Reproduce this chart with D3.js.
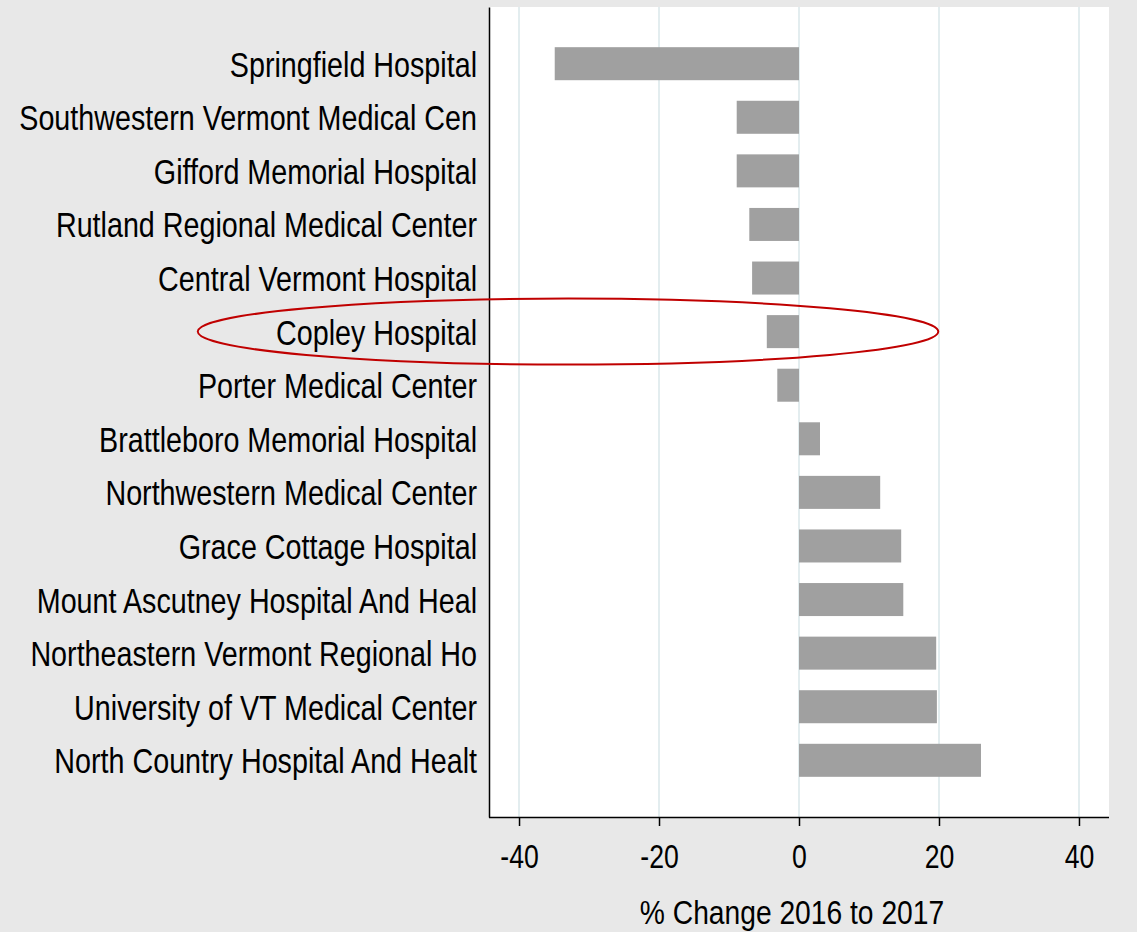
<!DOCTYPE html>
<html>
<head>
<meta charset="utf-8">
<script src="https://cdn.jsdelivr.net/npm/d3@7"></script>
<style>
  body { margin: 0; background: #e8e8e8; }
  text { font-family: "Liberation Sans", Arial, sans-serif; fill: #000; }
</style>
</head>
<body>
<svg id="chart"></svg>
<script>
// data
let hospitals = [
  "Springfield Hospital",
  "Southwestern Vermont Medical Cen",
  "Gifford Memorial Hospital",
  "Rutland Regional Medical Center",
  "Central Vermont Hospital",
  "Copley Hospital",
  "Porter Medical Center",
  "Brattleboro Memorial Hospital",
  "Northwestern Medical Center",
  "Grace Cottage Hospital",
  "Mount Ascutney Hospital And Heal",
  "Northeastern Vermont Regional Ho",
  "University of VT Medical Center",
  "North Country Hospital And Healt"
];
let pctChange = [-34.9, -8.9, -8.9, -7.1, -6.7, -4.6, -3.1, 3.0, 11.6, 14.6, 14.9, 19.6, 19.7, 26.0];
let xTicks = [-40, -20, 0, 20, 40];
let highlighted = "Copley Hospital";

let W = 1137, H = 932;
let margin = {top: 7, right: 28, bottom: 115, left: 489},
  width = W - margin.left - margin.right,
  height = H - margin.top - margin.bottom;

// narrow look: no condensed font installed, so squeeze the sans horizontally
let squeeze = 0.82;

let data = hospitals.map(function(h, i) { return {name: h, value: pctChange[i]}; });

let x = d3.scaleLinear().domain([-44.29, 44.29]).range([0, width]);
let y = d3.scaleBand().domain(hospitals).range([0, height])
  .paddingInner(0.384).paddingOuter(0.75);

let svg = d3.select("#chart")
  .attr("width", W)
  .attr("height", H);

svg.append("rect").attr("width", W).attr("height", H).attr("fill", "#e8e8e8");

let g = svg.append("g")
  .attr("transform", "translate(" + margin.left + "," + margin.top + ")");

// plot region
g.append("rect").attr("width", width).attr("height", height).attr("fill", "#fff");

// grid
g.selectAll(".grid").data(xTicks).enter().append("line")
  .attr("x1", function(d) { return x(d); })
  .attr("x2", function(d) { return x(d); })
  .attr("y1", 0).attr("y2", height)
  .attr("stroke", "#e3edef").attr("stroke-width", 2);

// bars
g.selectAll(".bar").data(data).enter().append("rect")
  .attr("x", function(d) { return x(Math.min(0, d.value)); })
  .attr("width", function(d) { return Math.abs(x(d.value) - x(0)); })
  .attr("y", function(d) { return y(d.name); })
  .attr("height", y.bandwidth())
  .attr("fill", "#a0a0a0");

// x axis
let xAxis = g.append("g")
  .attr("transform", "translate(0," + height + ")")
  .call(d3.axisBottom(x).tickValues(xTicks).tickSize(9)
    .tickFormat(function(d) { return String(d); }));
xAxis.select(".domain").attr("stroke", "#000").attr("stroke-width", 1.5).attr("d", "M0,0.5H" + width);
xAxis.selectAll(".tick line").attr("stroke", "#000").attr("stroke-width", 1.5);
xAxis.selectAll(".tick text")
  .attr("y", 51).attr("dy", null)
  .attr("transform", "scale(" + squeeze + ",1)")
  .style("font-size", "32.5px").style("font-family", null);

// y axis (category labels, no ticks)
let yAxis = g.append("g")
  .call(d3.axisLeft(y).tickSize(0));
yAxis.select(".domain").attr("stroke", "#000").attr("stroke-width", 1.5);
yAxis.selectAll(".tick text")
  .attr("x", -12 / squeeze).attr("dy", "0.37em")
  .attr("transform", "scale(" + squeeze + ",1)")
  .style("font-size", "35px").style("font-family", null);

// axis title
g.append("text")
  .attr("transform", "translate(" + (width / 2 - 7) + "," + (height + 107) + ") scale(0.83,1)")
  .attr("text-anchor", "middle")
  .style("font-size", "34px")
  .text("% Change 2016 to 2017");

// annotation ellipse around the highlighted hospital
g.append("ellipse")
  .attr("cx", x(-33))
  .attr("cy", y(highlighted) + y.bandwidth() / 2)
  .attr("rx", x(52.9) - x(0))
  .attr("ry", 33)
  .attr("fill", "none")
  .attr("stroke", "#c00000")
  .attr("stroke-width", 2);
</script>
</body>
</html>
